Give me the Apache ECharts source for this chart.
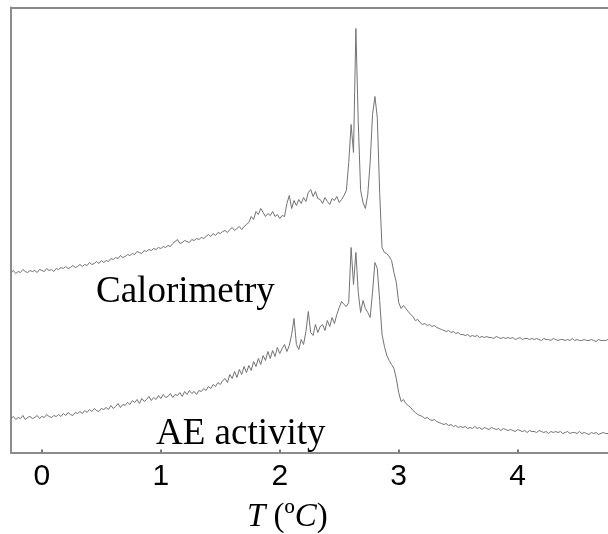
<!DOCTYPE html>
<html>
<head>
<meta charset="utf-8">
<script src="https://cdn.jsdelivr.net/npm/echarts@6/dist/echarts.min.js"></script>
<style>
  html, body { margin: 0; padding: 0; background: #fff; }
  #chart { width: 608px; height: 534px; }
</style>
</head>
<body>
<div id="chart"></div>
<script>
// Temperature sampling: -0.26 °C to 4.76 °C, one reading every 0.02 °C
const T_START = -0.26;
const T_STEP = 0.02;

// Calorimetry trace (arbitrary units), one row per 0.2 °C
const calorimetry = [
  180, 182, 179, 181, 180, 183, 181, 180, 182, 181,
  182, 180, 183, 182, 181, 184, 182, 183, 181, 184,
  183, 185, 184, 186, 184, 185, 187, 185, 186, 188,
  186, 188, 187, 190, 188, 189, 191, 189, 192, 190,
  192, 191, 194, 193, 195, 194, 197, 195, 196, 198,
  197, 199, 198, 201, 200, 199, 202, 201, 203, 202,
  204, 203, 205, 204, 206, 205, 207, 206, 209, 211,
  213, 209, 210, 212, 211, 210, 213, 212, 214, 213,
  215, 214, 216, 218, 216, 219, 217, 220, 219, 221,
  222, 220, 223, 225, 222, 224, 226, 223, 226, 228,
  230, 236, 233, 241, 238, 244, 240, 236, 239, 237,
  241, 236, 238, 234, 237, 236, 249, 257, 244, 252,
  247, 253, 249, 255, 251, 260, 263, 256, 261, 254,
  253, 249, 255, 251, 248, 254, 252, 256, 250, 253,
  257, 262, 290, 328, 300, 424, 330, 262, 250, 244,
  258, 290, 338, 356, 335, 260, 205, 200, 199, 196,
  192, 180, 170, 150, 144, 147, 144, 141, 138, 136,
  132, 133, 130, 128, 129, 127, 128, 126, 127, 125,
  124, 123, 122, 121, 122, 120, 121, 119, 120, 118,
  118, 117, 118, 116, 117, 116, 117, 115, 116, 115,
  116, 115, 115, 114, 116, 115, 114, 115, 114, 115,
  114, 115, 113, 114, 115, 113, 114, 114, 113, 114,
  113, 114, 113, 112, 114, 113, 113, 112, 114, 113,
  112, 113, 113, 112, 113, 112, 114, 112, 113, 112,
  112, 113, 112, 112, 113, 112, 111, 113, 112, 112,
  112, 113
];

// Acoustic emission activity trace (arbitrary units), same sampling
const aeActivity = [
  34, 36, 33, 35, 34, 37, 33, 35, 36, 34,
  35, 37, 34, 36, 35, 38, 36, 35, 37, 36,
  38, 36, 39, 37, 40, 38, 37, 40, 39, 41,
  39, 42, 40, 43, 41, 44, 42, 41, 44, 43,
  45, 43, 47, 44, 46, 49, 45, 48, 47, 50,
  48, 52, 50, 53, 49, 54, 51, 53, 56, 52,
  55, 53, 57, 54, 58, 55, 56, 59, 55, 58,
  57, 60, 56, 61, 58, 62, 59, 61, 58, 62,
  61, 64, 62, 66, 64, 68, 66, 70, 68, 72,
  74, 70, 78, 74, 81, 75, 83, 78, 86, 80,
  87, 82, 91, 86, 94, 88, 97, 92, 101, 94,
  102, 96, 105, 99, 104, 108, 101, 107, 118, 134,
  108, 103, 113, 108, 121, 141, 120, 117, 128, 120,
  126, 128, 122, 132, 126, 135, 129, 138, 145, 151,
  148, 146, 150, 205, 168, 200, 160, 140, 152, 144,
  140, 135, 160, 190, 184, 152, 118, 106, 97, 92,
  88, 84, 74, 60, 51, 53, 49, 47, 45, 42,
  40, 38, 37, 36, 34, 35, 33, 32, 33, 31,
  30, 29, 28, 29, 27, 28, 26, 27, 25, 26,
  25, 26, 24, 25, 24, 26, 24, 25, 23, 25,
  24, 23, 25, 24, 23, 24, 22, 24, 23, 22,
  23, 22, 21, 23, 22, 21, 22, 20, 22, 21,
  21, 20, 22, 21, 20, 21, 19, 21, 20, 21,
  20, 21, 19, 20, 21, 19, 20, 20, 19, 21,
  19, 20, 19, 18, 20, 19, 20, 18, 19, 20,
  19, 19
];

// Temperature tick labels
const tempTicks = [0, 1, 2, 3, 4];

const temps = calorimetry.map((_, i) => +(T_START + i * T_STEP).toFixed(2));
const pairs = (vals) => vals.map((v, i) => [temps[i], v]);

const chart = echarts.init(document.getElementById('chart'), null, { renderer: 'canvas' });

const frameLine = { show: true, lineStyle: { color: '#8c8c8c', width: 2 } };
const traceStyle = { color: '#737373', width: 1 };
const serif = 'Liberation Serif, Times New Roman, serif';

chart.setOption({
  animation: false,
  backgroundColor: '#ffffff',
  grid: { left: 11, right: 0, top: 7.5, bottom: 81.5, containLabel: false },
  xAxis: [
    {
      type: 'value',
      min: -0.26,
      max: 4.76,
      position: 'bottom',
      axisLine: Object.assign({ onZero: false }, frameLine),
      axisTick: { show: true, inside: true, length: 3, customValues: tempTicks,
                  lineStyle: { color: '#777', width: 2 } },
      axisLabel: { show: true, customValues: tempTicks, margin: 9, color: '#000',
                   fontSize: 30, fontFamily: 'Liberation Sans, Arial, sans-serif' },
      splitLine: { show: false }
    },
    {
      type: 'value',
      min: -0.26,
      max: 4.76,
      position: 'top',
      axisLine: Object.assign({ onZero: false }, frameLine),
      axisTick: { show: false },
      axisLabel: { show: false },
      splitLine: { show: false }
    }
  ],
  yAxis: {
    type: 'value',
    min: 0,
    max: 445,
    axisLine: Object.assign({ onZero: false }, frameLine),
    axisTick: { show: false },
    axisLabel: { show: false },
    splitLine: { show: false }
  },
  series: [
    { name: 'Calorimetry', type: 'line', data: pairs(calorimetry), showSymbol: false,
      lineStyle: traceStyle, itemStyle: { color: '#737373' } },
    { name: 'AE activity', type: 'line', data: pairs(aeActivity), showSymbol: false,
      lineStyle: traceStyle, itemStyle: { color: '#737373' } }
  ],
  graphic: [
    { type: 'text', left: 96, top: 274,
      style: { text: 'Calorimetry', fill: '#000', fontSize: 37, fontFamily: serif } },
    { type: 'text', left: 156, top: 416,
      style: { text: 'AE activity', fill: '#000', fontSize: 37, fontFamily: serif } },
    { type: 'text', left: 247, top: 501,
      style: { text: '{i|T} (º{i|C})', fill: '#000', fontSize: 33, fontFamily: serif,
               rich: { i: { fontStyle: 'italic', fontSize: 33, fontFamily: serif } } } }
  ]
});
</script>
</body>
</html>
